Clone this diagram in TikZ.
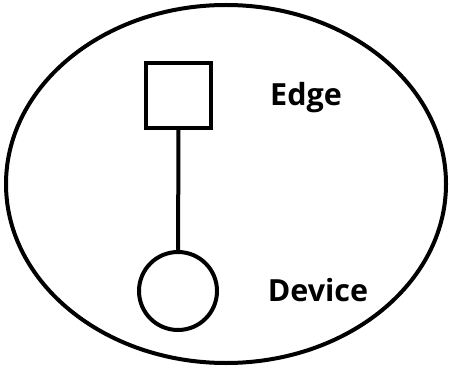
\documentclass[tikz,border=0pt]{standalone}
\usepackage{fontspec}
\setmainfont{Open Sans}
\usetikzlibrary{positioning, shapes.geometric}

\begin{document}
\begin{tikzpicture}[
  x=1pt, y=1pt, line width=4pt,
  edgebox/.style={draw, rectangle, inner sep=0pt, minimum size=65pt},
  devnode/.style={draw, circle, inner sep=0pt, minimum size=78pt},
  lab/.style={font=\bfseries\fontsize{30.5}{33}\selectfont, inner sep=0pt}
]
\useasboundingbox (0,0) rectangle (449,367);
\node[draw, ellipse, minimum width=440pt, minimum height=358pt, inner sep=0pt] (zone) at (226,183) {};
\node[edgebox] (E) at (178.5,271.5) {};
\node[devnode] (D) at (178,76) {};
\draw (E) -- (D);
\node[lab, anchor=base] (Elab) at (306,261) {Edge};
\node[lab, anchor=base] (Dlab) at (318,66) {Device};
\end{tikzpicture}
\end{document}
